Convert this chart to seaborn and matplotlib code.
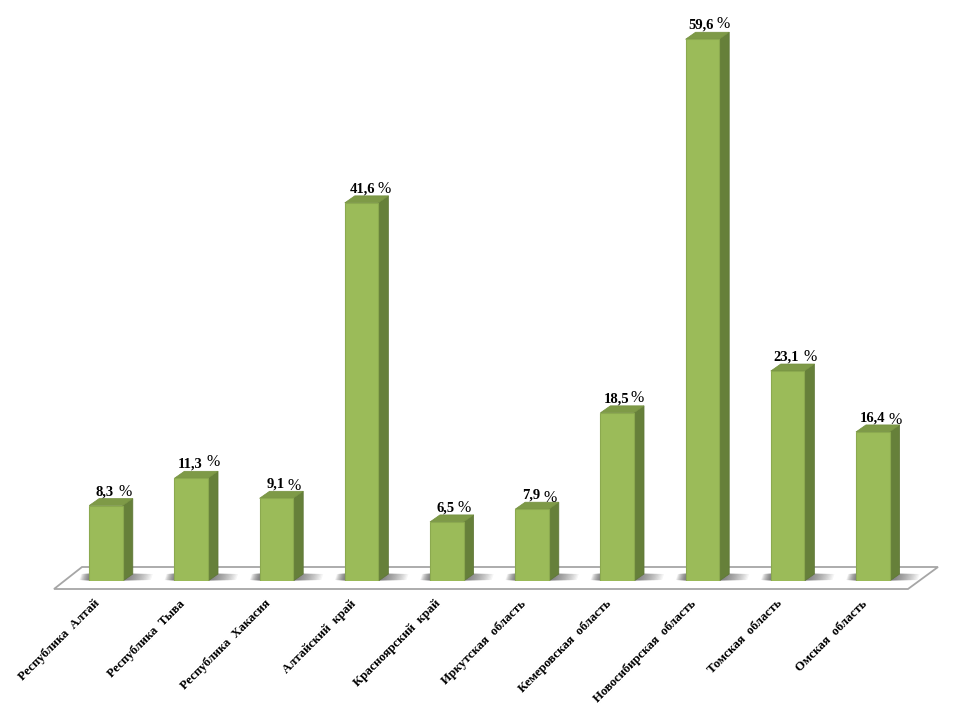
import matplotlib
matplotlib.use('Agg')
import matplotlib.pyplot as plt
import matplotlib.transforms as mtrans
from matplotlib.patches import Polygon
import pandas as pd
import seaborn as sns

regions = ["Республика  Алтай", "Республика  Тыва", "Республика  Хакасия", "Алтайский  край",
           "Красноярский  край", "Иркутская  область", "Кемеровская  область",
           "Новосибирская  область", "Томская  область", "Омская  область"]
values = [8.3, 11.3, 9.1, 41.6, 6.5, 7.9, 18.5, 59.6, 23.1, 16.4]
value_labels = ["8,3", "11,3", "9,1", "41,6", "6,5", "7,9", "18,5", "59,6", "23,1", "16,4"]

# px offsets of the labels from the bar centre / bar top
bold_dx = [-1, -1, -1, 1, -1, -1, -1, -1, -1, 0]
pct_dx = [19, 22, 18, 23, 17, 18, 20, 21, 23, 22]
pct_dy = [15, 18, 14, 15, 15, 13, 16, 17, 15, 13]

sns.set_theme(style="white")
plt.rcParams['font.family'] = ['Liberation Serif', 'DejaVu Serif']

df = pd.DataFrame({"region": regions, "value": values})

W, H = 960, 720
BASE_Y = 581
fig = plt.figure(figsize=(9.6, 7.2), dpi=100)
ax = fig.add_axes([0, (H - BASE_Y) / H, 1, BASE_Y / H])

sns.barplot(data=df, x="region", y="value", color="#9bbb59", saturation=1, width=0.395,
            edgecolor="#8ba94f", linewidth=0.8, ax=ax, zorder=5)

ax.set_xlim(-106 / 85.2, (W - 106) / 85.2)
ax.set_ylim(0, BASE_Y / 9.09)
ax.set_xlabel("")
ax.set_ylabel("")
ax.set_yticks([])
sns.despine(ax=ax, left=True, bottom=True)
ax.patch.set_alpha(0)

px_x = 1 / 85.2
px_y = 1 / 9.09
depth_x, depth_y = 10 * px_x, 7 * px_y

# floor, in pixels of the figure
to_fig = mtrans.Affine2D().scale(1 / W, -1 / H).translate(0, 1) + fig.transFigure
floor = Polygon([(54, 589), (908, 589), (938, 567), (82, 567)], closed=True, facecolor="white",
                edgecolor="#a6a6a6", linewidth=1.3, transform=to_fig, zorder=1, clip_on=False)
ax.add_patch(floor)

for i, bar in enumerate(ax.patches[:-1]):
    x0, w, top = bar.get_x(), bar.get_width(), bar.get_height()
    x1 = x0 + w
    # soft shadow on the floor, layers get thicker towards the bar
    for k in range(20):
        ext = (20 - k) * 1.4 * px_x
        half = (3 + k * 0.05) * px_y
        ax.add_patch(Polygon([(x0 - ext * 0.35, 4 * px_y - half), (x1 + ext, 4 * px_y - half),
                              (x1 + ext + 2 * px_x, 4 * px_y + half),
                              (x0 - ext * 0.35 + 2 * px_x, 4 * px_y + half)],
                             closed=True, facecolor="#444444", alpha=0.05, linewidth=0, zorder=2))
    # side and top faces
    ax.add_patch(Polygon([(x1, 0), (x1 + depth_x, depth_y), (x1 + depth_x, top + depth_y), (x1, top)],
                         closed=True, facecolor="#66803a", edgecolor="#5d7535", linewidth=0.5, zorder=4))
    ax.add_patch(Polygon([(x0, top), (x1, top), (x1 + depth_x, top + depth_y), (x0 + depth_x, top + depth_y)],
                         closed=True, facecolor="#7e9a47", edgecolor="#74903f", linewidth=0.5, zorder=4))
    # value labels
    ax.annotate(value_labels[i], (i, top), xytext=(bold_dx[i] * 0.72, 7.5 * 0.72), textcoords="offset points",
                ha="center", va="bottom", fontsize=10.5, fontweight="bold", color="black", zorder=6)
    ax.annotate("%", (i, top), xytext=(pct_dx[i] * 0.72, pct_dy[i] * 0.72 - 6.8), textcoords="offset points",
                ha="center", va="bottom", fontsize=11.5, color="black", zorder=6)

# tick labels, pushed left of the bars
ax.tick_params(axis="x", length=0, pad=12)
shift = mtrans.ScaledTranslation(-12 / 100, 0, fig.dpi_scale_trans)
for lab in ax.get_xticklabels():
    lab.set_rotation(45)
    lab.set_ha("right")
    lab.set_va("top")
    lab.set_rotation_mode("anchor")
    lab.set_fontsize(9.2)
    lab.set_fontweight("bold")
    lab.set_color("black")
    lab.set_transform(lab.get_transform() + shift)

fig.savefig("out.png", dpi=100)
plt.close()
